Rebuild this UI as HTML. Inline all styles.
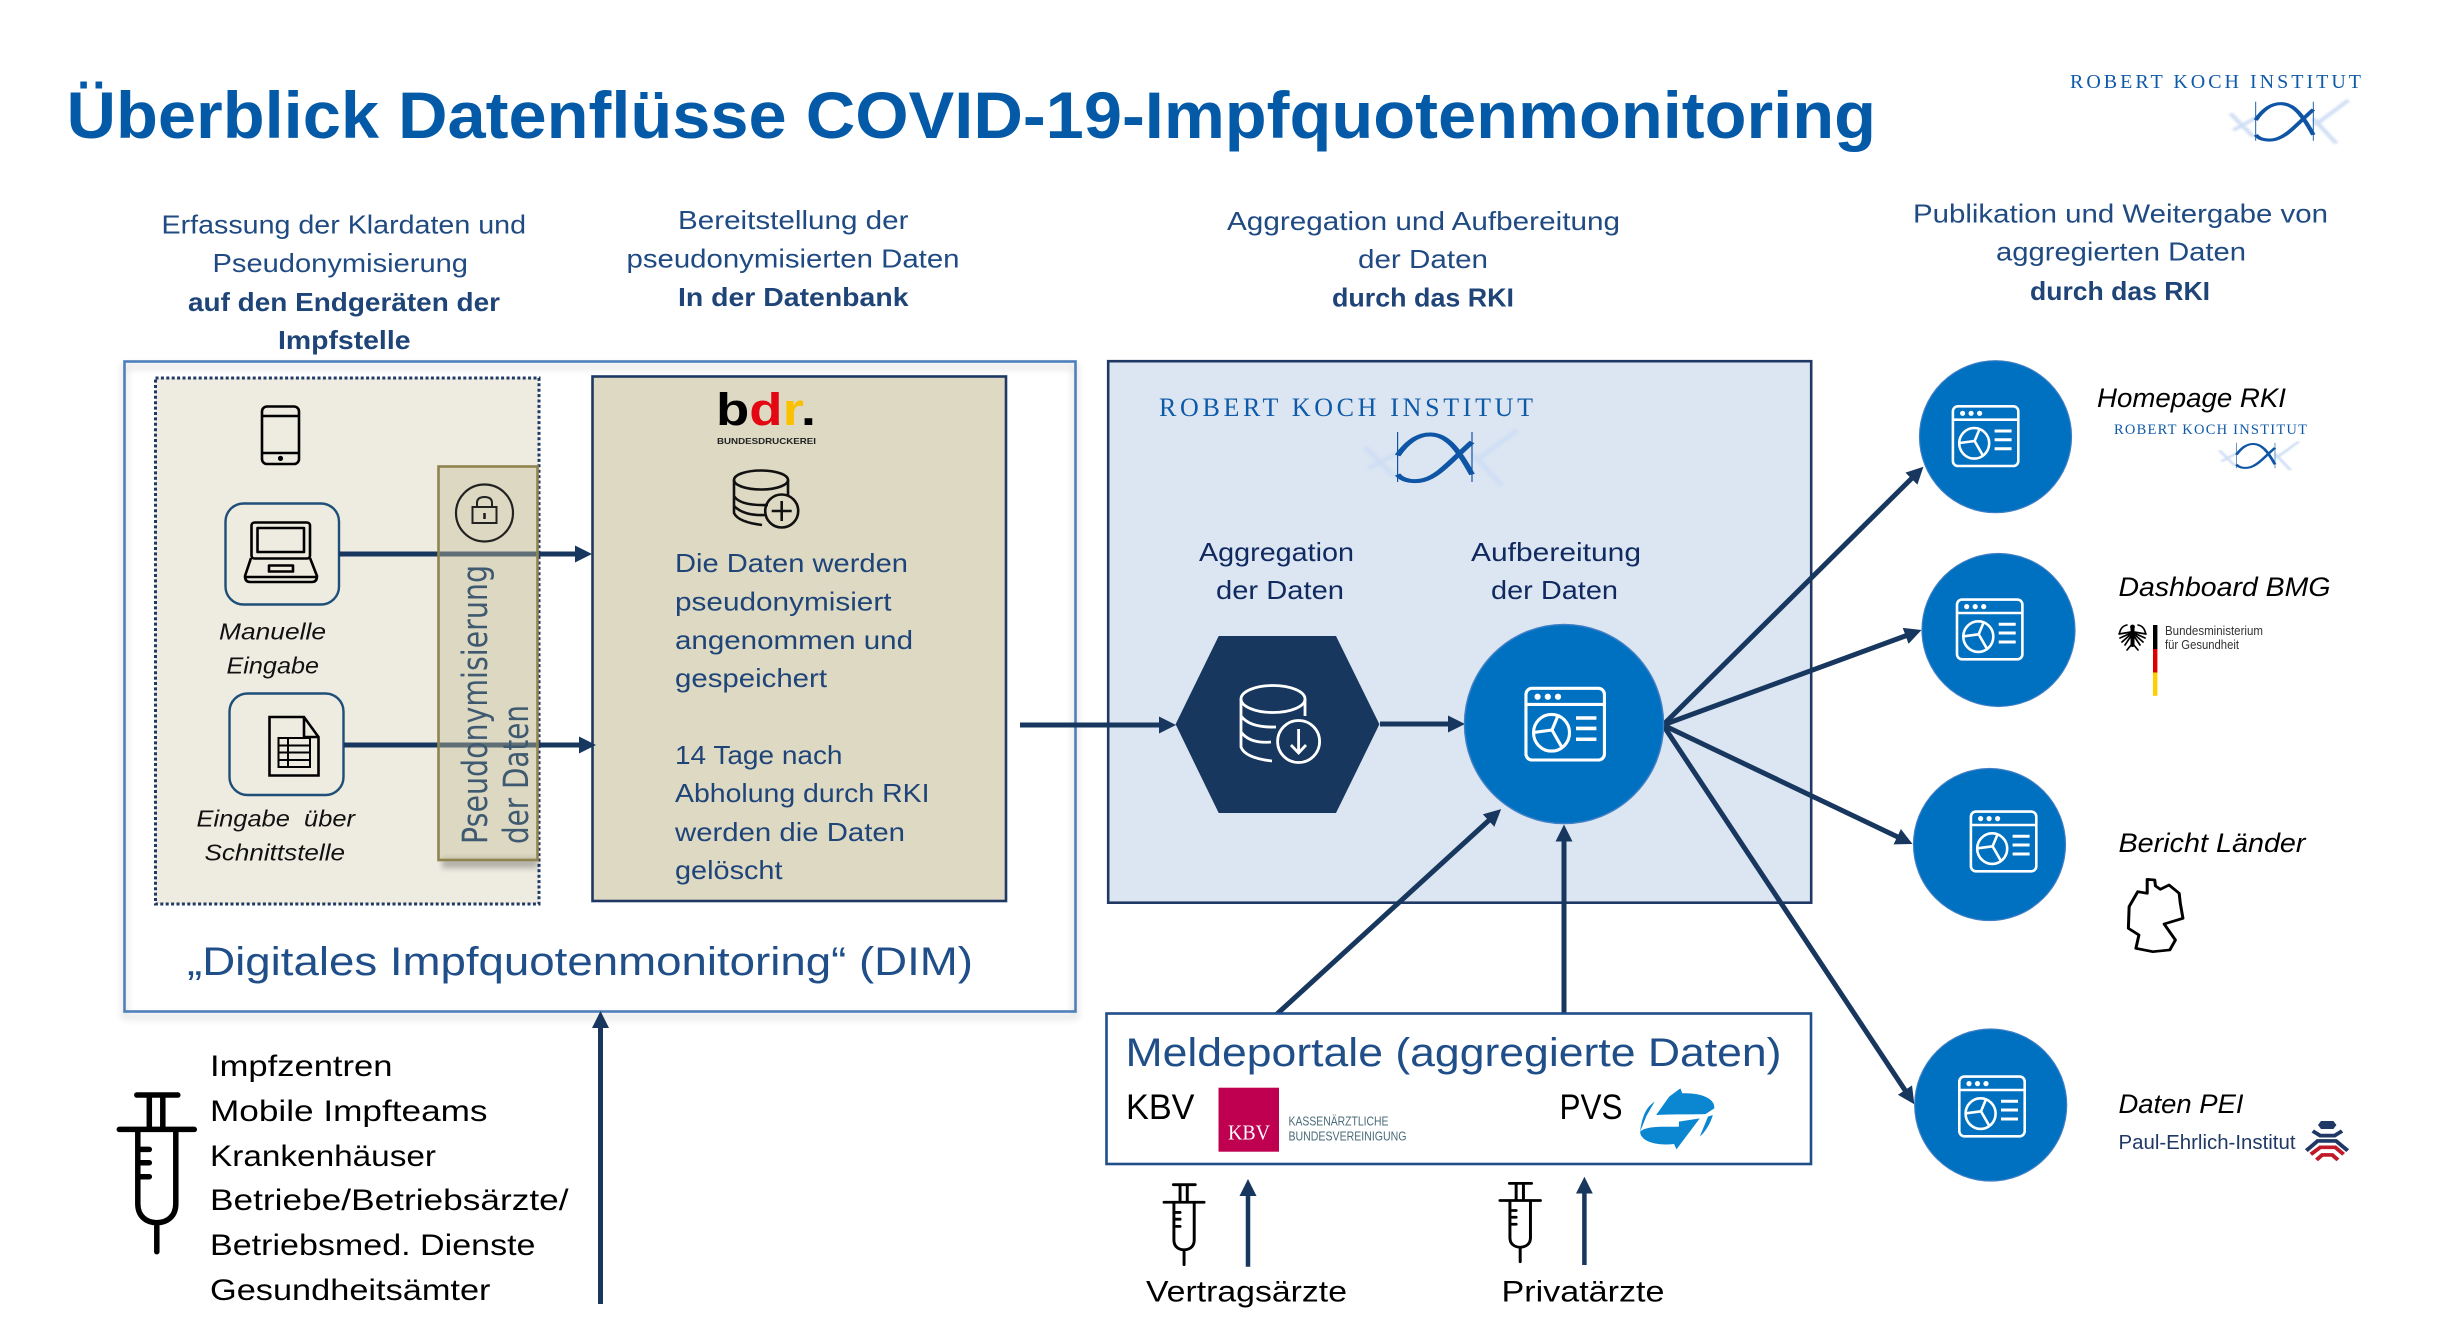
<!DOCTYPE html>
<html lang="de"><head><meta charset="utf-8"><title>Überblick Datenflüsse COVID-19-Impfquotenmonitoring</title>
<style>
html,body{margin:0;padding:0;background:#fff;width:2440px;height:1337px;overflow:hidden}
svg{display:block}
text{font-family:"Liberation Sans",Arial,sans-serif;white-space:pre}
.h{font-size:26px;fill:#1f4a82}
.hb{font-size:26px;fill:#1f4478;font-weight:bold}
.b{font-size:26px;fill:#1f4478}
.n{font-size:26px;fill:#10295e}
.i{font-size:27px;font-style:italic;fill:#000}
.li{font-size:23px;font-style:italic;fill:#111}
.l{font-size:30px;fill:#000}
.s{font-family:"Liberation Serif",serif;fill:#0f5aa8}
.ln{stroke:#17375e;stroke-width:5;fill:none;marker-end:url(#a)}
</style></head><body>
<svg width="2440" height="1337" viewBox="0 0 2440 1337" xmlns="http://www.w3.org/2000/svg">
<defs>
<marker id="a" markerUnits="userSpaceOnUse" markerWidth="18" markerHeight="18" refX="3" refY="8.5" orient="auto"><path d="M0,0L17,8.5L0,17Z" fill="#17375e"/></marker>
<filter id="sh" x="-5%" y="-5%" width="110%" height="110%"><feDropShadow dx="0" dy="5" stdDeviation="4" flood-color="#000" flood-opacity=".22"/></filter>
<filter id="sb" x="-5%" y="-50%" width="110%" height="200%"><feGaussianBlur stdDeviation="3"/></filter>
<filter id="gb" x="-30%" y="-30%" width="160%" height="160%"><feGaussianBlur stdDeviation="2.5"/></filter>
<g id="app" fill="none" stroke="#fff" stroke-width="2.6">
<rect x="1.3" y="1.3" width="65.4" height="59.7" rx="5"/><path d="M1.3,14.7H66.7"/>
<circle cx="11" cy="8.3" r="2.6" fill="#fff" stroke="none"/><circle cx="19.5" cy="8.3" r="2.6" fill="#fff" stroke="none"/><circle cx="28" cy="8.3" r="2.6" fill="#fff" stroke="none"/>
<ellipse cx="22.6" cy="38.3" rx="15" ry="15.3"/><path d="M23,36L8,38M23,36L28,24M23,36L31,50"/>
<path d="M43,26H60M43,34.7H60M43,43.7H60" stroke-width="3"/>
</g>
<g id="syr" fill="none" stroke="#000" stroke-width="5.5" stroke-linecap="round" stroke-linejoin="round">
<path d="M20,3.3H61M32.5,4V37M46,4V37M2.5,37.7H77.5M21,38V112C21,125 30,131 40,131C50,131 59,125 59,112V38M40,132V160M21,57.7H32.5M21,71H32.5M21,85H32.5"/>
</g>
<g id="fish" fill="none">
<path d="M-44,30L-4,90M-39,73L2,40M100,43L140,107M103,60L161,-4" stroke="#cfdef4" stroke-width="8" filter="url(#gb)"/>
<path d="M0,47C15,15 30,4 45,5C65,6 80,30 100,85" stroke="#0f55a5" stroke-width="8"/>
<path d="M0,85C8,100 25,100 35,96C55,88 70,60 100,20" stroke="#0f55a5" stroke-width="8"/>
<path d="M0,0V100M100,0V100" stroke="#0f55a5" stroke-width="1.6"/>
</g>
</defs>
<rect width="2440" height="1337" fill="#fff"/>

<!-- title -->
<text x="66.5" y="138" font-size="66" font-weight="bold" fill="#055aa8" textLength="1809.5" lengthAdjust="spacingAndGlyphs">Überblick Datenflüsse COVID-19-Impfquotenmonitoring</text>
<!-- top right logo -->
<text class="s" x="2070" y="88" font-size="20" textLength="291" lengthAdjust="spacing">ROBERT KOCH INSTITUT</text>
<use href="#fish" transform="translate(2255.7,101.7) scale(.576,.39)"/>

<!-- headers -->
<text class="h" x="161.5" y="233.5" textLength="364.5" lengthAdjust="spacingAndGlyphs">Erfassung der Klardaten und</text>
<text class="h" x="212.5" y="272" textLength="255.5" lengthAdjust="spacingAndGlyphs">Pseudonymisierung</text>
<text class="hb" x="188" y="311" textLength="312" lengthAdjust="spacingAndGlyphs">auf den Endgeräten der</text>
<text class="hb" x="278" y="349" textLength="132.5" lengthAdjust="spacingAndGlyphs">Impfstelle</text>
<text class="h" x="678" y="229" textLength="230.5" lengthAdjust="spacingAndGlyphs">Bereitstellung der</text>
<text class="h" x="626.5" y="267.5" textLength="333" lengthAdjust="spacingAndGlyphs">pseudonymisierten Daten</text>
<text class="hb" x="678" y="306" textLength="230.5" lengthAdjust="spacingAndGlyphs">In der Datenbank</text>
<text class="h" x="1227" y="230" textLength="393" lengthAdjust="spacingAndGlyphs">Aggregation und Aufbereitung</text>
<text class="h" x="1358" y="268" textLength="130" lengthAdjust="spacingAndGlyphs">der Daten</text>
<text class="hb" x="1332" y="306.5" textLength="182" lengthAdjust="spacingAndGlyphs">durch das RKI</text>
<text class="h" x="1913" y="222.5" textLength="415" lengthAdjust="spacingAndGlyphs">Publikation und Weitergabe von</text>
<text class="h" x="1996" y="260.5" textLength="250" lengthAdjust="spacingAndGlyphs">aggregierten Daten</text>
<text class="hb" x="2030" y="300" textLength="180" lengthAdjust="spacingAndGlyphs">durch das RKI</text>

<!-- DIM box -->
<rect x="124.5" y="361.5" width="951" height="650" fill="none" stroke="#4f7fba" stroke-width="2.6" filter="url(#sh)"/>
<rect x="155.5" y="378" width="383.5" height="526" fill="#eeece1" stroke="#1f3864" stroke-width="3" stroke-dasharray="3 2.4"/>
<rect x="592.5" y="376.5" width="413.5" height="524.5" fill="#ddd9c3" stroke="#1f3864" stroke-width="2.6"/>

<!-- phone -->
<g fill="none" stroke="#000" stroke-width="2.6"><rect x="262" y="406.5" width="37" height="57.5" rx="5"/><path d="M262,416H299M262,453H299"/></g>
<circle cx="280.5" cy="458.4" r="2.6"/>
<!-- laptop -->
<rect x="225.5" y="503.5" width="113.5" height="101" rx="18" fill="#eeece1" stroke="#1f4e79" stroke-width="2.4"/>
<g fill="none" stroke="#000" stroke-width="2.6" stroke-linejoin="round"><rect x="251.5" y="522.5" width="58.5" height="36" rx="3"/><rect x="257.5" y="528" width="46.5" height="24"/><path d="M251,558L245,576Q245,582 250,582H312Q317,582 317,576L310,558M246,577H316"/><rect x="269" y="565.5" width="24" height="6"/></g>
<!-- doc -->
<rect x="229.5" y="693.5" width="114" height="101.5" rx="18" fill="#eeece1" stroke="#1f4e79" stroke-width="2.4"/>
<g fill="none" stroke="#000" stroke-width="2.6"><path d="M269.5,717H304L318.5,737V775.5H269.5ZM304,717V737H318.5"/><path d="M278.5,738H310V767H278.5ZM278.5,745.5H310M278.5,752.5H310M278.5,760H310M288,738V767" stroke-width="2"/></g>
<text class="li" x="219" y="639.5" textLength="107" lengthAdjust="spacingAndGlyphs">Manuelle</text>
<text class="li" x="226.5" y="673.5" textLength="92.5" lengthAdjust="spacingAndGlyphs">Eingabe</text>
<text class="li" x="196.5" y="826.5" textLength="158.5" lengthAdjust="spacingAndGlyphs">Eingabe  über</text>
<text class="li" x="204.5" y="860.5" textLength="140.5" lengthAdjust="spacingAndGlyphs">Schnittstelle</text>

<!-- horizontal arrows -->
<path class="ln" d="M339,554H578"/>
<path class="ln" d="M344,745H582"/>

<!-- band -->
<rect x="442" y="858" width="96" height="10" fill="#000" opacity=".25" filter="url(#sb)"/>
<rect x="438.5" y="466.5" width="99" height="393.5" fill="#c4bd97" fill-opacity=".42" stroke="#8f8450" stroke-width="2.6"/>
<circle cx="484.5" cy="513" r="28.5" fill="none" stroke="#222" stroke-width="2.2"/>
<g fill="none" stroke="#222" stroke-width="2"><rect x="472.5" y="507" width="24" height="16"/><path d="M477,507V503Q477,497 484.5,497Q492,497 492,503V507"/><path d="M484.5,513V519" stroke-width="2.6"/></g>
<text transform="translate(487,844) rotate(-90)" style="font-family:'DejaVu Sans',sans-serif" font-size="35" fill="#3f5a70" textLength="279" lengthAdjust="spacingAndGlyphs">Pseudonymisierung</text>
<text transform="translate(528,844) rotate(-90)" style="font-family:'DejaVu Sans',sans-serif" font-size="35" fill="#3f5a70" textLength="139" lengthAdjust="spacingAndGlyphs">der Daten</text>

<!-- bdr -->
<text x="716" y="425" font-size="45" font-weight="bold" textLength="100" lengthAdjust="spacingAndGlyphs"><tspan fill="#000">b</tspan><tspan fill="#e30613">d</tspan><tspan fill="#fbc000">r</tspan><tspan fill="#000">.</tspan></text>
<text x="717" y="444" font-size="8.5" font-weight="bold" fill="#222" textLength="99" lengthAdjust="spacingAndGlyphs">BUNDESDRUCKEREI</text>
<!-- db plus -->
<g fill="none" stroke="#111" stroke-width="2.6"><ellipse cx="761" cy="480" rx="27" ry="9.5"/><path d="M734,480V513Q738,522 762,525M788,480V495M734,496Q740,506 768,505M734,506Q744,516 765,515"/><circle cx="781.7" cy="511" r="16.5"/><path d="M781.7,501V521M771.7,511H791.7"/></g>
<text class="b" x="675" y="572" textLength="233" lengthAdjust="spacingAndGlyphs">Die Daten werden</text>
<text class="b" x="675" y="610.5" textLength="216.5" lengthAdjust="spacingAndGlyphs">pseudonymisiert</text>
<text class="b" x="675" y="649" textLength="238" lengthAdjust="spacingAndGlyphs">angenommen und</text>
<text class="b" x="675" y="687" textLength="152" lengthAdjust="spacingAndGlyphs">gespeichert</text>
<text class="b" x="675" y="764" textLength="167.5" lengthAdjust="spacingAndGlyphs">14 Tage nach</text>
<text class="b" x="675" y="802" textLength="254.5" lengthAdjust="spacingAndGlyphs">Abholung durch RKI</text>
<text class="b" x="675" y="841" textLength="230" lengthAdjust="spacingAndGlyphs">werden die Daten</text>
<text class="b" x="675" y="879" textLength="107.5" lengthAdjust="spacingAndGlyphs">gelöscht</text>
<text x="187" y="975" font-size="40" fill="#1f4e88" textLength="786" lengthAdjust="spacingAndGlyphs">„Digitales Impfquotenmonitoring“ (DIM)</text>

<!-- RKI box -->
<rect x="1108.2" y="361.2" width="703" height="541.5" fill="#dce6f2" stroke="#1f3864" stroke-width="2.6"/>
<text class="s" x="1159" y="416" font-size="26" textLength="374" lengthAdjust="spacing">ROBERT KOCH INSTITUT</text>
<use href="#fish" transform="translate(1397.6,432) scale(.744,.5)"/>
<text class="n" x="1199" y="561" textLength="155" lengthAdjust="spacingAndGlyphs">Aggregation</text>
<text class="n" x="1216" y="599" textLength="128" lengthAdjust="spacingAndGlyphs">der Daten</text>
<text class="n" x="1471" y="561" textLength="170" lengthAdjust="spacingAndGlyphs">Aufbereitung</text>
<text class="n" x="1491" y="599" textLength="127" lengthAdjust="spacingAndGlyphs">der Daten</text>

<!-- flow -->
<path class="ln" d="M1020,725H1162"/>
<polygon points="1175.6,724.3 1218.7,636 1336,636 1379.4,724.3 1336,813 1218.7,813" fill="#17375e"/>
<g fill="none" stroke="#fff" stroke-width="2.8"><ellipse cx="1273" cy="699" rx="32" ry="13.5"/><path d="M1241,699V747Q1245,758 1272,761M1305,699V716M1241,716Q1250,728 1276,727M1241,732Q1250,744 1271,742"/><circle cx="1298.6" cy="741.5" r="21"/><path d="M1298.6,729V752M1291,745L1298.6,753L1306,745"/></g>
<path class="ln" d="M1380,724H1451"/>
<path class="ln" d="M1277,1014L1490.8,818.6"/>
<path class="ln" d="M1564,1013V838.5"/>
<path class="ln" d="M1663,725L1913.5,476.6"/>
<path class="ln" d="M1663,725L1908.4,634.8"/>
<path class="ln" d="M1663,725L1899.9,838"/>
<path class="ln" d="M1663,725L1906.6,1092.6"/>
<circle cx="1564" cy="724" r="99.5" fill="#0070c0" stroke="#3f7fc6" stroke-width="1.5"/>
<use href="#app" transform="translate(1524.4,686.8) scale(1.2)"/>

<circle cx="1995.5" cy="436.7" r="76" fill="#0070c0" stroke="#3f7fc6" stroke-width="1.2"/>
<use href="#app" transform="translate(1951.6,405)"/>
<circle cx="1998.5" cy="630" r="76.5" fill="#0070c0" stroke="#3f7fc6" stroke-width="1.2"/>
<use href="#app" transform="translate(1955.7,598.3)"/>
<circle cx="1989.5" cy="844.5" r="76" fill="#0070c0" stroke="#3f7fc6" stroke-width="1.2"/>
<use href="#app" transform="translate(1969.6,810.3)"/>
<circle cx="1990.7" cy="1105" r="76" fill="#0070c0" stroke="#3f7fc6" stroke-width="1.2"/>
<use href="#app" transform="translate(1958,1075.3)"/>

<!-- right labels -->
<text class="i" x="2097" y="407" textLength="189" lengthAdjust="spacingAndGlyphs">Homepage RKI</text>
<text class="s" x="2114" y="434" font-size="14.5" textLength="193" lengthAdjust="spacing">ROBERT KOCH INSTITUT</text>
<use href="#fish" transform="translate(2236.4,442.7) scale(.386,.256)"/>
<text class="i" x="2118.5" y="596" textLength="212" lengthAdjust="spacingAndGlyphs">Dashboard BMG</text>
<rect x="2153" y="625" width="4.4" height="24"/><rect x="2153" y="649" width="4.4" height="23.5" fill="#dd0000"/><rect x="2153" y="672.5" width="4.4" height="23.3" fill="#ffce00"/>
<!-- eagle -->
<g fill="none" stroke="#000" stroke-linecap="round">
<path d="M2132.5,628V645" stroke-width="4"/>
<circle cx="2132.5" cy="627" r="2.4" fill="#000" stroke="none"/>
<path d="M2127,625Q2121,626 2119.5,633M2138,625Q2144,626 2145.5,633" stroke-width="1.6"/>
<path d="M2131,632L2119,634M2131,633L2120,638M2131,634L2122,642M2131,636L2125,645M2134,632L2146,634M2134,633L2145,638M2134,634L2143,642M2134,636L2140,645M2132,644L2127,650M2133,644L2138,650" stroke-width="1.7"/>
</g>
<text x="2165" y="635" font-size="13" fill="#333" textLength="98" lengthAdjust="spacingAndGlyphs">Bundesministerium</text>
<text x="2165" y="649" font-size="13" fill="#333" textLength="74" lengthAdjust="spacingAndGlyphs">für Gesundheit</text>
<text class="i" x="2118.5" y="852" textLength="187" lengthAdjust="spacingAndGlyphs">Bericht Länder</text>
<path d="M790,358L810,360L812,378L825,388L848,375L875,400L878,430L885,475L835,492L865,540L850,570L805,575L760,565L768,525L740,505L742,440L765,395L790,400Z" transform="translate(1850,760) scale(.3762,.3333)" fill="none" stroke="#000" stroke-width="8" stroke-linejoin="round"/>
<text class="i" x="2118.5" y="1113" textLength="125" lengthAdjust="spacingAndGlyphs">Daten PEI</text>
<text x="2118.5" y="1149" font-size="20" fill="#1f3864" textLength="177" lengthAdjust="spacingAndGlyphs">Paul-Ehrlich-Institut</text>
<g transform="translate(1850,760) scale(.3762,.3333)" fill="none" stroke-width="11">
<polygon points="1252,1083 1285,1083 1293,1095 1285,1107 1252,1107 1244,1095" fill="#1f3864" stroke="none"/>
<polyline points="1230,1113 1250,1127 1288,1127 1308,1113" stroke="#1f3864"/>
<polyline points="1213,1172 1243,1143 1292,1143 1323,1172" stroke="#1f3864"/>
<polyline points="1225,1183 1250,1162 1290,1162 1312,1183" stroke="#c01a28"/>
<polyline points="1240,1200 1255,1185 1282,1185 1297,1200" stroke="#c01a28"/>
</g>

<!-- Meldeportale -->
<rect x="1106.5" y="1013.5" width="704.5" height="150.5" fill="#fff" stroke="#1f4e88" stroke-width="2.6"/>
<text x="1125.5" y="1066" font-size="40" fill="#1f4e88" textLength="656" lengthAdjust="spacingAndGlyphs">Meldeportale (aggregierte Daten)</text>
<text x="1126" y="1119" font-size="35" fill="#000" textLength="68.5" lengthAdjust="spacingAndGlyphs">KBV</text>
<rect x="1218.5" y="1087.7" width="60.5" height="64" fill="#bf0050"/>
<text x="1228" y="1139.3" font-size="21" fill="#fff" style="font-family:'Liberation Serif',serif" textLength="42" lengthAdjust="spacingAndGlyphs">KBV</text>
<text x="1288.5" y="1125.7" font-size="12.5" fill="#4a6b78" textLength="100" lengthAdjust="spacingAndGlyphs">KASSENÄRZTLICHE</text>
<text x="1288.5" y="1140.3" font-size="12.5" fill="#4a6b78" textLength="118" lengthAdjust="spacingAndGlyphs">BUNDESVEREINIGUNG</text>
<text x="1559.5" y="1119" font-size="35" fill="#000" textLength="63" lengthAdjust="spacingAndGlyphs">PVS</text>
<g transform="translate(1090,1000) scale(.4847,.3333)" fill="#0b86d0">
<path d="M1168,345L1195,290L1218,265L1222,280C1260,278 1290,295 1288,325L1270,342C1250,344 1200,342 1168,345Z"/>
<path d="M1135,395C1140,340 1150,320 1165,305L1148,348Z"/>
<path d="M1135,395C1150,375 1190,382 1215,380L1215,365L1258,355L1210,448L1205,432C1170,438 1135,425 1135,395Z"/>
<path d="M1285,345C1280,370 1270,395 1258,410L1275,350Z"/>
</g>
<use href="#syr" transform="translate(1162.7,1183) scale(.534,.51)"/>
<use href="#syr" transform="translate(1498.6,1181.7) scale(.54,.5)"/>
<path class="ln" d="M1248,1266.7V1193" style="stroke-width:4.5"/>
<path class="ln" d="M1584.4,1265V1190.7" style="stroke-width:4.5"/>
<text x="1146" y="1301.5" font-size="30" fill="#000" textLength="201" lengthAdjust="spacingAndGlyphs">Vertragsärzte</text>
<text x="1501.5" y="1301.5" font-size="30" fill="#000" textLength="163" lengthAdjust="spacingAndGlyphs">Privatärzte</text>

<!-- left list -->
<use href="#syr" transform="translate(116.8,1091.7)"/>
<text class="l" x="210" y="1076" textLength="182.5" lengthAdjust="spacingAndGlyphs">Impfzentren</text>
<text class="l" x="210" y="1121" textLength="277.5" lengthAdjust="spacingAndGlyphs">Mobile Impfteams</text>
<text class="l" x="210" y="1166" textLength="226" lengthAdjust="spacingAndGlyphs">Krankenhäuser</text>
<text class="l" x="210" y="1210" textLength="358.5" lengthAdjust="spacingAndGlyphs">Betriebe/Betriebsärzte/</text>
<text class="l" x="210" y="1255" textLength="325.5" lengthAdjust="spacingAndGlyphs">Betriebsmed. Dienste</text>
<text class="l" x="210" y="1300" textLength="280.5" lengthAdjust="spacingAndGlyphs">Gesundheitsämter</text>
<path class="ln" d="M600.5,1304V1025"/>
</svg>
</body></html>
